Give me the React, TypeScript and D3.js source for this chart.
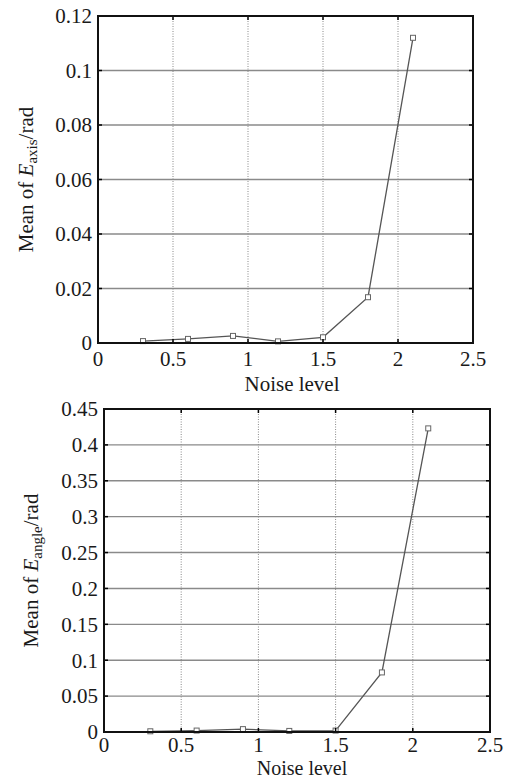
import * as d3 from 'd3'

const noiseLevels = [0.3, 0.6, 0.9, 1.2, 1.5, 1.8, 2.1];
const axisErrors = [0.0007, 0.0015, 0.0026, 0.0006, 0.0021, 0.0168, 0.112];
const angleErrors = [0.001, 0.002, 0.004, 0.0015, 0.002, 0.083, 0.423];

const xTicks = [0, 0.5, 1, 1.5, 2, 2.5];
const axisYTicks = [0, 0.02, 0.04, 0.06, 0.08, 0.1, 0.12];
const angleYTicks = [0, 0.05, 0.1, 0.15, 0.2, 0.25, 0.3, 0.35, 0.4, 0.45];

const FONT = '"Liberation Serif", "Times New Roman", serif';

type PanelProps = {
  box: { left: number, top: number, right: number, bottom: number },
  yMax: number,
  yTicks: number[],
  values: number[],
  sub: string,
  yLabelX: number,
  xLabelX: number,
  xLabelY: number,
  xLabelSize: number,
  tickGap: number,
};

function Panel({ box, yMax, yTicks, values, sub, yLabelX, xLabelX, xLabelY, xLabelSize, tickGap }: PanelProps) {
  const x = d3.scaleLinear().domain([0, 2.5]).range([box.left, box.right]);
  const y = d3.scaleLinear().domain([0, yMax]).range([box.bottom, box.top]);
  const pts = noiseLevels.map((n, i) => [x(n), y(values[i])] as [number, number]);
  const line = d3.line()(pts);
  const tk = 4;
  const midY = (box.top + box.bottom) / 2;

  return (
    <g>
      {/* grid */}
      {yTicks.slice(1, -1).map(t => (
        <line key={'gy' + t} x1={box.left} x2={box.right} y1={y(t)} y2={y(t)}
          stroke="#8a8a8a" strokeWidth={1.4} />
      ))}
      {xTicks.slice(1, -1).map(t => (
        <line key={'gx' + t} x1={x(t)} x2={x(t)} y1={box.top} y2={box.bottom}
          stroke="#888" strokeWidth={1} strokeDasharray="1,1.5" />
      ))}

      {/* data */}
      <path d={line ?? ''} fill="none" stroke="#555" strokeWidth={1.3} />
      {pts.map((p, i) => (
        <rect key={i} x={p[0] - 2.5} y={p[1] - 2.5} width={5} height={5}
          fill="white" stroke="#666" strokeWidth={1} />
      ))}

      {/* ticks */}
      {xTicks.map(t => (
        <g key={'tx' + t}>
          <line x1={x(t)} x2={x(t)} y1={box.bottom} y2={box.bottom - tk} stroke="#000" strokeWidth={1.5} />
          <line x1={x(t)} x2={x(t)} y1={box.top} y2={box.top + tk} stroke="#000" strokeWidth={1.5} />
          <text x={x(t)} y={box.bottom + tickGap} textAnchor="middle" fontFamily={FONT} fontSize={21} fill="#1a1a1a">
            {String(t)}
          </text>
        </g>
      ))}
      {yTicks.map(t => (
        <g key={'ty' + t}>
          <line x1={box.left} x2={box.left + tk} y1={y(t)} y2={y(t)} stroke="#000" strokeWidth={1.5} />
          <line x1={box.right} x2={box.right - tk} y1={y(t)} y2={y(t)} stroke="#000" strokeWidth={1.5} />
          <text x={box.left - 6} y={y(t)} dy="0.35em" textAnchor="end" fontFamily={FONT} fontSize={21} fill="#1a1a1a">
            {String(t)}
          </text>
        </g>
      ))}

      {/* frame */}
      <rect x={box.left} y={box.top} width={box.right - box.left} height={box.bottom - box.top}
        fill="none" stroke="#111" strokeWidth={2} />

      {/* labels */}
      <text x={xLabelX} y={xLabelY} textAnchor="middle" fontFamily={FONT} fontSize={xLabelSize} fill="#1a1a1a">
        Noise level
      </text>
      <text transform={`translate(${yLabelX},${midY}) rotate(-90)`} textAnchor="middle"
        fontFamily={FONT} fontSize={21} fill="#1a1a1a">
        <tspan>Mean of </tspan>
        <tspan fontStyle="italic">E</tspan>
        <tspan fontSize={15} dy={4}>{sub}</tspan>
        <tspan dy={-4}>/rad</tspan>
      </text>
    </g>
  );
}

export default function App() {
  return (
    <svg width={507} height={780} style={{ position: 'absolute', left: 0, top: 0, background: '#fff' }}>
      <rect width={507} height={780} fill="#fff" />
      <Panel
        box={{ left: 98, top: 16, right: 473, bottom: 343 }}
        yMax={0.12}
        yTicks={axisYTicks}
        values={axisErrors}
        sub="axis"
        yLabelX={33}
        xLabelX={292}
        xLabelY={391}
        xLabelSize={21}
        tickGap={23}
      />
      <Panel
        box={{ left: 104, top: 409, right: 490, bottom: 732 }}
        yMax={0.45}
        yTicks={angleYTicks}
        values={angleErrors}
        sub="angle"
        yLabelX={38}
        xLabelX={302}
        xLabelY={775}
        xLabelSize={20}
        tickGap={20}
      />
    </svg>
  );
}
